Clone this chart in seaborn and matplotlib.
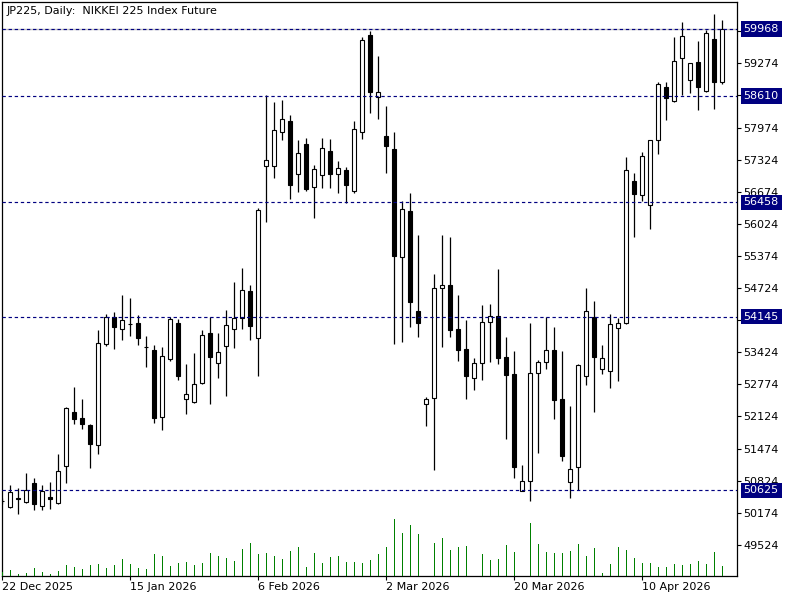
import matplotlib
matplotlib.use("Agg")
import matplotlib.pyplot as plt
import seaborn as sns

# daily candles JP225, starting 22 Dec 2025
opens = [50420, 50297, 50483, 50386, 50771, 50311, 50487, 50366, 51127, 52208,
         52087, 51951, 51540, 53585, 54137, 53900, 53996, 54016, 53524, 53469,
         52119, 53293, 54016, 52487, 52410, 52795, 53813, 53200, 53544, 53888,
         54123, 54658, 53718, 57188, 57188, 57877, 58105, 57026, 57640, 56763,
         57006, 57498, 57026, 57113, 56694, 57877, 59846, 58585, 57802, 57539,
         55346, 56283, 54259, 52370, 52491, 54718, 54785, 53894, 53490, 52896,
         53200, 54030, 54152, 53327, 52983, 50609, 50817, 52997, 53220, 53469,
         52477, 50791, 51094, 52949, 54143, 53078, 53050, 53921, 54022, 56885,
         56613, 56399, 57715, 58788, 58504, 59375, 58942, 59294, 58707, 59759,
         58901]
highs = [50473, 50736, 50669, 50985, 50878, 50736, 50797, 51364, 52315, 52726,
         52477, 51965, 53874, 54204, 54239, 54583, 54522, 54172, 53753, 53564,
         53524, 54137, 54091, 53186, 53409, 53874, 54137, 53813, 54279, 54846,
         55129, 54779, 56338, 58626, 58490, 58530, 58227, 57721, 57761, 57215,
         57767, 57741, 57296, 57174, 58105, 59806, 59927, 59427, 58409, 57883,
         56486, 56642, 55797, 52524, 55008, 55797, 55757, 54583, 54077, 53307,
         54380, 54401, 55109, 53732, 53449, 51141, 54010, 53267, 54143, 53935,
         53449, 52335, 53192, 54724, 54461, 53570, 54192, 54111, 57377, 57053,
         57478, 57720, 58895, 58895, 59806, 60104, 59280, 59725, 59942, 60272,
         60150]
lows = [50352, 50277, 50155, 50380, 50236, 50236, 50256, 50345, 50783, 51965,
        51870, 51086, 51370, 53544, 53496, 53678, 53759, 53577, 53131, 51997,
        51856, 53253, 52868, 52180, 52405, 52790, 52386, 52909, 52544, 53516,
        53900, 53678, 52949, 56067, 56957, 57721, 56532, 56674, 56694, 56148,
        56755, 56755, 56654, 56451, 56654, 57747, 58273, 58152, 57059, 53597,
        53631, 53941, 53739, 51937, 51046, 53536, 53739, 53253, 52483, 52666,
        52868, 53232, 53192, 51674, 50884, 50605, 50418, 51390, 53091, 52078,
        51228, 50479, 50635, 52767, 52220, 52989, 52706, 52848, 54002, 55757,
        56486, 55925, 57443, 58132, 58500, 58626, 58678, 58334, 58700, 58354,
        58854]
closes = [50410, 50588, 50453, 50629, 50345, 50615, 50459, 51013, 52295, 52066,
          51965, 51560, 53605, 54137, 53941, 54071, 53996, 53718, 53524, 52099,
          53342, 54091, 52943, 52572, 52775, 53767, 53334, 53423, 53969, 54111,
          54678, 53961, 56298, 57310, 57923, 58140, 56816, 57451, 56735, 57134,
          57559, 57038, 57154, 56804, 57943, 59745, 58699, 58686, 57605, 55378,
          56318, 54447, 54022, 52477, 54718, 54779, 53880, 53475, 52949, 53206,
          54030, 54152, 53313, 52963, 51107, 50811, 53004, 53226, 53463, 52463,
          51329, 51060, 53166, 54253, 53327, 53301, 53990, 54010, 57107, 56634,
          57397, 57715, 58848, 58565, 59314, 59820, 59274, 58800, 59881, 58901,
          59962]
volumes = [4, 6, 2, 3, 8, 4, 2, 5, 11, 9, 7, 11, 12, 8, 11, 17, 12, 8, 7, 22,
           20, 10, 13, 14, 11, 13, 23, 20, 18, 15, 27, 33, 22, 23, 20, 17, 25, 29, 9, 23,
           13, 19, 20, 14, 14, 13, 16, 22, 29, 57, 43, 51, 42, 0, 33, 38, 26, 29, 30, 0,
           22, 16, 17, 31, 24, 0, 53, 32, 24, 23, 23, 25, 32, 20, 28, 3, 12, 29, 26, 18,
           13, 13, 9, 9, 12, 11, 12, 15, 12, 24, 10]

levels = [59968, 58610, 56458, 54145, 50625]
bid = 59962
price_ticks = [49524, 50174, 50824, 51474, 52124, 52774, 53424, 54074,
               54724, 55374, 56024, 56674, 57324, 57974, 58624, 59274, 59924]
# these tick labels sit right under the level boxes
hidden_ticks = [54074, 58624, 59924]
date_pos = [0, 16, 32, 48, 64, 80]
date_labels = ['22 Dec 2025', '15 Jan 2026', '6 Feb 2026', '2 Mar 2026',
               '20 Mar 2026', '10 Apr 2026']

sns.set_style("white")
plt.rcParams['font.family'] = ['DejaVu Sans']
plt.rcParams['lines.scale_dashes'] = False

fig = plt.figure(figsize=(8, 6), dpi=100)
ax = fig.add_axes([0.0025, 0.04, 0.91875, 0.9575])
idx = list(range(len(opens)))

# volume overlay along the bottom
ax2 = ax.twinx()
sns.barplot(x=idx, y=volumes, ax=ax2, native_scale=True, color='#008000',
            saturation=1, width=0.17, linewidth=0, errorbar=None)
ax2.set_ylim(0, 574.5)
ax2.set_yticks([])
ax2.set_ylabel('')
for s in ax2.spines.values():
    s.set_visible(False)

# candles
ax.vlines(idx, lows, highs, color='black', lw=0.9, zorder=2)
for i in idx:
    o, c = opens[i], closes[i]
    fc = 'white' if c >= o else 'black'
    ax.bar(i, abs(c - o), bottom=min(o, c), width=0.5, color=fc,
           edgecolor='black', linewidth=0.8, zorder=3)

ax.axhline(bid, color='#c0c0c0', lw=1, zorder=1)
for lv in levels:
    ax.axhline(lv, color='#000080', lw=0.85, ls=(0, (2.4, 2.0)), zorder=4)
    ax.annotate(str(lv), xy=(1, lv), xycoords=('axes fraction', 'data'),
                xytext=(4.8, 0), textcoords='offset points', ha='left', va='center',
                color='white', fontsize=8, annotation_clip=False, zorder=10,
                bbox=dict(boxstyle='square,pad=0.25', fc='#000080', ec='none'))

ax.set_xlim(-0.04, 91.84)
ax.set_ylim(48894, 60525)
ax.yaxis.tick_right()
ax.set_yticks(price_ticks)
ax.set_yticklabels(['' if t in hidden_ticks else str(t) for t in price_ticks])
ax.set_xticks(date_pos)
ax.set_xticklabels(date_labels, ha='left')
ax.tick_params(axis='y', direction='out', length=3, width=0.8, pad=1.5,
               labelsize=8, colors='black', right=True, left=False)
ax.tick_params(axis='x', direction='out', length=3, width=0.8, pad=1,
               labelsize=8, colors='black', bottom=True)
ax.set_xlabel('')
ax.set_ylabel('')
for s in ax.spines.values():
    s.set_visible(True)
    s.set_color('black')
    s.set_linewidth(0.9)

fig.text(7 / 800, 1 - 11 / 600, 'JP225, Daily:  NIKKEI 225 Index Future',
         ha='left', va='center', fontsize=8, color='black')

fig.savefig('out.png', dpi=100)
